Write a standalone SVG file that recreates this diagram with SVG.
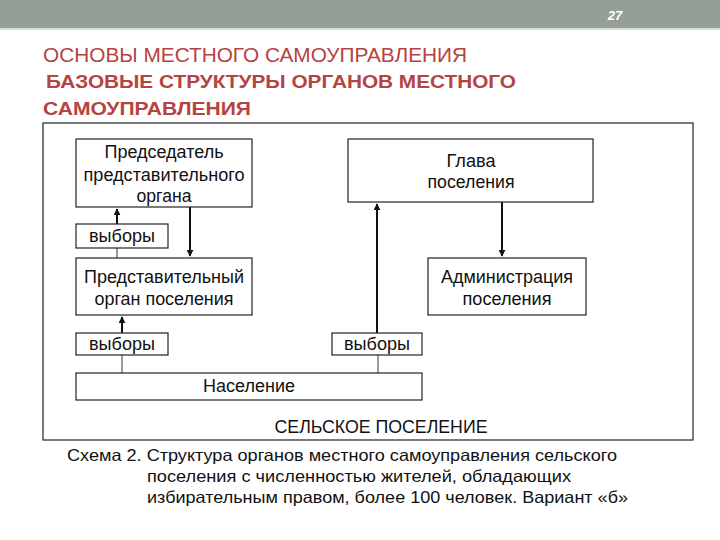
<svg xmlns="http://www.w3.org/2000/svg" width="720" height="540" viewBox="0 0 720 540">
<defs>
<marker id="ah" viewBox="0 0 10 10" refX="9" refY="5" markerWidth="7" markerHeight="7" markerUnits="userSpaceOnUse" orient="auto">
<path d="M0,0 L10,5 L0,10 Z" fill="#111"/>
</marker>
<style>
.box{fill:#fff;stroke:#222;stroke-width:1.2}
.t{font-family:"Liberation Sans",Arial,sans-serif;font-size:17.5px;fill:#111;text-anchor:middle}
.cap{font-family:"Liberation Sans",Arial,sans-serif;font-size:16.5px;fill:#111}
.ttl{font-family:"Liberation Sans",Arial,sans-serif;font-size:20px;fill:#b5433f}
.ttlb{font-family:"Liberation Sans",Arial,sans-serif;font-size:19px;font-weight:bold;fill:#b5433f}
.ln{stroke:#111;stroke-width:2;fill:none}
.thin{stroke:#333;stroke-width:1;fill:none}
</style>
</defs>
<rect x="0" y="0" width="720" height="540" fill="#fff"/>
<rect x="0" y="0" width="720" height="28" fill="#949f95"/>
<rect x="0" y="28" width="720" height="2" fill="#d6dcd7"/>
<text x="615" y="20" font-family="Liberation Sans,Arial,sans-serif" font-size="13" font-weight="bold" font-style="italic" fill="#fff" text-anchor="middle">27</text>
<text class="ttl" x="43" y="62" textLength="424" lengthAdjust="spacingAndGlyphs">ОСНОВЫ МЕСТНОГО САМОУПРАВЛЕНИЯ</text>
<text class="ttlb" x="46" y="88" textLength="470" lengthAdjust="spacingAndGlyphs">БАЗОВЫЕ СТРУКТУРЫ ОРГАНОВ МЕСТНОГО</text>
<text class="ttlb" x="43" y="115" textLength="208" lengthAdjust="spacingAndGlyphs">САМОУПРАВЛЕНИЯ</text>
<rect x="43" y="123" width="650" height="317" fill="none" stroke="#222" stroke-width="1.2"/>
<g id="connectors">
<line class="ln" x1="117" y1="224" x2="117" y2="209" marker-end="url(#ah)"/>
<line class="thin" x1="117" y1="248" x2="117" y2="258"/>
<line class="ln" x1="190" y1="207" x2="190" y2="256" marker-end="url(#ah)"/>
<line class="ln" x1="502" y1="202" x2="502" y2="256" marker-end="url(#ah)"/>
<line class="ln" x1="377" y1="333" x2="377" y2="204" marker-end="url(#ah)"/>
<line class="ln" x1="122" y1="333" x2="122" y2="317" marker-end="url(#ah)"/>
<line class="thin" x1="122" y1="355" x2="122" y2="373"/>
<line class="thin" x1="378" y1="355" x2="378" y2="373"/>
</g>
<g id="chair">
<rect class="box" x="76" y="139" width="176" height="68"/>
<text class="t" x="164" y="158" textLength="119" lengthAdjust="spacingAndGlyphs">Председатель</text>
<text class="t" x="164" y="181" textLength="161" lengthAdjust="spacingAndGlyphs">представительного</text>
<text class="t" x="164" y="202" textLength="55" lengthAdjust="spacingAndGlyphs">органа</text>
</g>
<g id="head">
<rect class="box" x="348" y="139" width="245" height="63"/>
<text class="t" x="471" y="167" textLength="49" lengthAdjust="spacingAndGlyphs">Глава</text>
<text class="t" x="471" y="188" textLength="87" lengthAdjust="spacingAndGlyphs">поселения</text>
</g>
<g id="vote1">
<rect class="box" x="76" y="224" width="92" height="24"/>
<text class="t" x="122" y="242" textLength="66" lengthAdjust="spacingAndGlyphs">выборы</text>
</g>
<g id="council">
<rect class="box" x="76" y="258" width="176" height="57"/>
<text class="t" x="164" y="283" textLength="160" lengthAdjust="spacingAndGlyphs">Представительный</text>
<text class="t" x="164" y="305" textLength="139" lengthAdjust="spacingAndGlyphs">орган поселения</text>
</g>
<g id="admin">
<rect class="box" x="428" y="258" width="158" height="57"/>
<text class="t" x="507" y="283" textLength="132" lengthAdjust="spacingAndGlyphs">Администрация</text>
<text class="t" x="507" y="305" textLength="89" lengthAdjust="spacingAndGlyphs">поселения</text>
</g>
<g id="vote2">
<rect class="box" x="76" y="333" width="92" height="22"/>
<text class="t" x="122" y="350" textLength="66" lengthAdjust="spacingAndGlyphs">выборы</text>
</g>
<g id="vote3">
<rect class="box" x="332" y="333" width="90" height="22"/>
<text class="t" x="377" y="350" textLength="66" lengthAdjust="spacingAndGlyphs">выборы</text>
</g>
<g id="population">
<rect class="box" x="76" y="373" width="346" height="27"/>
<text class="t" x="249" y="392" textLength="92" lengthAdjust="spacingAndGlyphs">Население</text>
</g>
<text class="t" x="381" y="433" font-size="16.5" textLength="213" lengthAdjust="spacingAndGlyphs">СЕЛЬСКОЕ ПОСЕЛЕНИЕ</text>
<text class="cap" x="67" y="461" textLength="550" lengthAdjust="spacingAndGlyphs">Схема 2. Структура органов местного самоуправления сельского</text>
<text class="cap" x="147" y="482" textLength="424" lengthAdjust="spacingAndGlyphs">поселения с численностью жителей, обладающих</text>
<text class="cap" x="147" y="503" textLength="481" lengthAdjust="spacingAndGlyphs">избирательным правом, более 100 человек. Вариант «б»</text>
</svg>
